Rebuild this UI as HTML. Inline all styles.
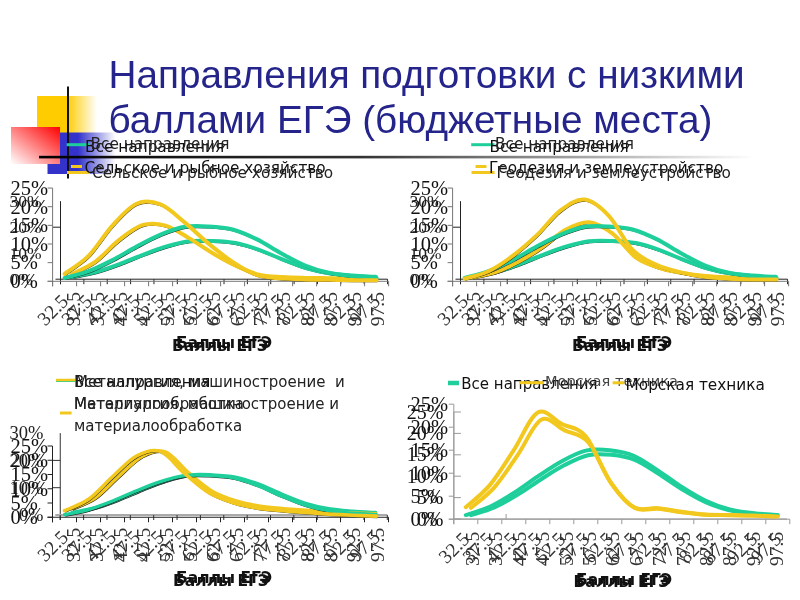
<!DOCTYPE html>
<html><head><meta charset="utf-8"><title>Направления подготовки с низкими баллами ЕГЭ</title>
<style>html,body{margin:0;padding:0;background:#fff;overflow:hidden} svg{display:block}</style>
</head><body>
<svg width="800" height="600" viewBox="0 0 800 600" font-family='"Liberation Sans", Arial, sans-serif'>
<defs>
<linearGradient id="gy" x1="0" y1="0" x2="1" y2="0">
 <stop offset="0" stop-color="#ffcc00"/><stop offset="0.5" stop-color="#ffcc00"/><stop offset="1" stop-color="#ffffff"/>
</linearGradient>
<linearGradient id="gb" x1="0" y1="0" x2="1" y2="0">
 <stop offset="0" stop-color="#3333cc"/><stop offset="0.45" stop-color="#3333cc"/><stop offset="1" stop-color="#ffffff"/>
</linearGradient>
<linearGradient id="gr" x1="1" y1="0" x2="0" y2="1">
 <stop offset="0" stop-color="#ff0000"/><stop offset="1" stop-color="#ffffff"/>
</linearGradient>
<linearGradient id="gl" x1="0" y1="0" x2="1" y2="0">
 <stop offset="0" stop-color="#000000"/><stop offset="0.45" stop-color="#333333"/><stop offset="1" stop-color="#ffffff"/>
</linearGradient>
</defs>
<rect width="800" height="600" fill="#fff"/>
<rect x="37" y="96" width="60" height="50" fill="url(#gy)"/>
<rect x="47.5" y="132.5" width="68" height="41.5" fill="url(#gb)"/>
<rect x="11" y="127" width="49" height="37" fill="url(#gr)"/>
<rect x="67" y="86.5" width="2" height="92" fill="#111"/>
<rect x="39" y="155.8" width="716" height="2.6" fill="url(#gl)"/>
<text x="108.5" y="87.5" font-size="38.7" fill="#24248a">Направления подготовки с низкими</text>
<text x="108.5" y="133" font-size="38.7" fill="#24248a">баллами ЕГЭ (бюджетные места)</text>

<line x1="60.5" y1="201.2" x2="60.5" y2="284.2" stroke="#222" stroke-width="1"/>
<line x1="55.5" y1="279.2" x2="387.53999999999996" y2="279.2" stroke="#222" stroke-width="1"/>
<text x="9.5" y="285.0" text-anchor="start" font-family='"Liberation Serif", "Times New Roman", serif' font-size="17.5" fill="#222">0%</text>
<text x="9.5" y="259.0" text-anchor="start" font-family='"Liberation Serif", "Times New Roman", serif' font-size="17.5" fill="#222">10%</text>
<line x1="53.0" y1="227.2" x2="60.5" y2="227.2" stroke="#222" stroke-width="1"/>
<text x="9.5" y="233.0" text-anchor="start" font-family='"Liberation Serif", "Times New Roman", serif' font-size="17.5" fill="#222">20%</text>
<text x="9.5" y="207.0" text-anchor="start" font-family='"Liberation Serif", "Times New Roman", serif' font-size="17.5" fill="#222">30%</text>
<line x1="60.5" y1="279.2" x2="60.5" y2="284.2" stroke="#222" stroke-width="1"/>
<line x1="83.86" y1="279.2" x2="83.86" y2="284.2" stroke="#222" stroke-width="1"/>
<line x1="107.22" y1="279.2" x2="107.22" y2="284.2" stroke="#222" stroke-width="1"/>
<line x1="130.57999999999998" y1="279.2" x2="130.57999999999998" y2="284.2" stroke="#222" stroke-width="1"/>
<line x1="153.94" y1="279.2" x2="153.94" y2="284.2" stroke="#222" stroke-width="1"/>
<line x1="177.3" y1="279.2" x2="177.3" y2="284.2" stroke="#222" stroke-width="1"/>
<line x1="200.66" y1="279.2" x2="200.66" y2="284.2" stroke="#222" stroke-width="1"/>
<line x1="224.01999999999998" y1="279.2" x2="224.01999999999998" y2="284.2" stroke="#222" stroke-width="1"/>
<line x1="247.38" y1="279.2" x2="247.38" y2="284.2" stroke="#222" stroke-width="1"/>
<line x1="270.74" y1="279.2" x2="270.74" y2="284.2" stroke="#222" stroke-width="1"/>
<line x1="294.1" y1="279.2" x2="294.1" y2="284.2" stroke="#222" stroke-width="1"/>
<line x1="317.46" y1="279.2" x2="317.46" y2="284.2" stroke="#222" stroke-width="1"/>
<line x1="340.82" y1="279.2" x2="340.82" y2="284.2" stroke="#222" stroke-width="1"/>
<line x1="364.18" y1="279.2" x2="364.18" y2="284.2" stroke="#222" stroke-width="1"/>
<line x1="387.53999999999996" y1="279.2" x2="387.53999999999996" y2="284.2" stroke="#222" stroke-width="1"/>
<text transform="translate(80.2,292.0) rotate(-90)" text-anchor="end" font-family='"Liberation Serif", "Times New Roman", serif' font-size="19.5" fill="#333">32.5</text>
<text transform="translate(103.5,292.0) rotate(-90)" text-anchor="end" font-family='"Liberation Serif", "Times New Roman", serif' font-size="19.5" fill="#333">37.5</text>
<text transform="translate(126.9,292.0) rotate(-90)" text-anchor="end" font-family='"Liberation Serif", "Times New Roman", serif' font-size="19.5" fill="#333">42.5</text>
<text transform="translate(150.3,292.0) rotate(-90)" text-anchor="end" font-family='"Liberation Serif", "Times New Roman", serif' font-size="19.5" fill="#333">47.5</text>
<text transform="translate(173.6,292.0) rotate(-90)" text-anchor="end" font-family='"Liberation Serif", "Times New Roman", serif' font-size="19.5" fill="#333">52.5</text>
<text transform="translate(197.0,292.0) rotate(-90)" text-anchor="end" font-family='"Liberation Serif", "Times New Roman", serif' font-size="19.5" fill="#333">57.5</text>
<text transform="translate(220.3,292.0) rotate(-90)" text-anchor="end" font-family='"Liberation Serif", "Times New Roman", serif' font-size="19.5" fill="#333">62.5</text>
<text transform="translate(243.7,292.0) rotate(-90)" text-anchor="end" font-family='"Liberation Serif", "Times New Roman", serif' font-size="19.5" fill="#333">67.5</text>
<text transform="translate(267.1,292.0) rotate(-90)" text-anchor="end" font-family='"Liberation Serif", "Times New Roman", serif' font-size="19.5" fill="#333">72.5</text>
<text transform="translate(290.4,292.0) rotate(-90)" text-anchor="end" font-family='"Liberation Serif", "Times New Roman", serif' font-size="19.5" fill="#333">77.5</text>
<text transform="translate(313.8,292.0) rotate(-90)" text-anchor="end" font-family='"Liberation Serif", "Times New Roman", serif' font-size="19.5" fill="#333">82.5</text>
<text transform="translate(337.1,292.0) rotate(-90)" text-anchor="end" font-family='"Liberation Serif", "Times New Roman", serif' font-size="19.5" fill="#333">87.5</text>
<text transform="translate(360.5,292.0) rotate(-90)" text-anchor="end" font-family='"Liberation Serif", "Times New Roman", serif' font-size="19.5" fill="#333">92.5</text>
<text transform="translate(383.9,292.0) rotate(-90)" text-anchor="end" font-family='"Liberation Serif", "Times New Roman", serif' font-size="19.5" fill="#333">97.5</text>
<path d="M72.18,276.86 C76.07,276.08 87.75,274.26 95.54,272.18 C103.33,270.10 111.11,267.24 118.90,264.38 C126.69,261.52 134.47,257.97 142.26,255.02 C150.05,252.07 157.83,249.00 165.62,246.70 C173.41,244.40 181.19,242.19 188.98,241.24 C196.77,240.29 204.55,240.68 212.34,240.98 C220.13,241.28 227.91,241.59 235.70,243.06 C243.49,244.53 251.27,247.09 259.06,249.82 C266.85,252.55 274.63,256.41 282.42,259.44 C290.21,262.47 297.99,265.72 305.78,268.02 C313.57,270.32 321.35,271.96 329.14,273.22 C336.93,274.48 344.71,274.95 352.50,275.56 C360.29,276.17 371.97,276.64 375.86,276.86" transform="translate(0.9,1.5)" fill="none" stroke="#222" stroke-width="1.2"/>
<path d="M72.18,276.86 C76.07,276.08 87.75,274.26 95.54,272.18 C103.33,270.10 111.11,267.24 118.90,264.38 C126.69,261.52 134.47,257.97 142.26,255.02 C150.05,252.07 157.83,249.00 165.62,246.70 C173.41,244.40 181.19,242.19 188.98,241.24 C196.77,240.29 204.55,240.68 212.34,240.98 C220.13,241.28 227.91,241.59 235.70,243.06 C243.49,244.53 251.27,247.09 259.06,249.82 C266.85,252.55 274.63,256.41 282.42,259.44 C290.21,262.47 297.99,265.72 305.78,268.02 C313.57,270.32 321.35,271.96 329.14,273.22 C336.93,274.48 344.71,274.95 352.50,275.56 C360.29,276.17 371.97,276.64 375.86,276.86" fill="none" stroke="#1fcf9b" stroke-width="4" stroke-linejoin="round" stroke-linecap="round"/>
<path d="M72.18,274.00 C76.07,271.92 87.75,267.15 95.54,261.52 C103.33,255.89 111.11,246.27 118.90,240.20 C126.69,234.13 134.47,227.55 142.26,225.12 C150.05,222.69 157.83,223.47 165.62,225.64 C173.41,227.81 181.19,233.57 188.98,238.12 C196.77,242.67 204.55,248.35 212.34,252.94 C220.13,257.53 227.91,262.04 235.70,265.68 C243.49,269.32 251.27,272.87 259.06,274.78 C266.85,276.69 274.63,276.60 282.42,277.12 C290.21,277.64 297.99,277.73 305.78,277.90 C313.57,278.07 321.35,278.07 329.14,278.16 C336.93,278.25 344.71,278.38 352.50,278.42 C360.29,278.46 371.97,278.42 375.86,278.42" transform="translate(0.9,1.5)" fill="none" stroke="#222" stroke-width="1.2"/>
<path d="M72.18,274.00 C76.07,271.92 87.75,267.15 95.54,261.52 C103.33,255.89 111.11,246.27 118.90,240.20 C126.69,234.13 134.47,227.55 142.26,225.12 C150.05,222.69 157.83,223.47 165.62,225.64 C173.41,227.81 181.19,233.57 188.98,238.12 C196.77,242.67 204.55,248.35 212.34,252.94 C220.13,257.53 227.91,262.04 235.70,265.68 C243.49,269.32 251.27,272.87 259.06,274.78 C266.85,276.69 274.63,276.60 282.42,277.12 C290.21,277.64 297.99,277.73 305.78,277.90 C313.57,278.07 321.35,278.07 329.14,278.16 C336.93,278.25 344.71,278.38 352.50,278.42 C360.29,278.46 371.97,278.42 375.86,278.42" fill="none" stroke="#f2c81e" stroke-width="4" stroke-linejoin="round" stroke-linecap="round"/>
<line x1="52.6" y1="188.05" x2="52.6" y2="286.3" stroke="#777" stroke-width="1"/>
<line x1="47.6" y1="281.3" x2="388.6" y2="281.3" stroke="#777" stroke-width="1"/>
<line x1="47.6" y1="281.3" x2="52.6" y2="281.3" stroke="#777" stroke-width="1"/>
<text x="10.5" y="288.1" text-anchor="start" font-family='"Liberation Serif", "Times New Roman", serif' font-size="20.5" fill="#111">0%</text>
<line x1="47.6" y1="262.65000000000003" x2="52.6" y2="262.65000000000003" stroke="#777" stroke-width="1"/>
<text x="10.5" y="269.4" text-anchor="start" font-family='"Liberation Serif", "Times New Roman", serif' font-size="20.5" fill="#111">5%</text>
<line x1="47.6" y1="244.0" x2="52.6" y2="244.0" stroke="#777" stroke-width="1"/>
<text x="10.5" y="250.8" text-anchor="start" font-family='"Liberation Serif", "Times New Roman", serif' font-size="20.5" fill="#111">10%</text>
<line x1="47.6" y1="225.35000000000002" x2="52.6" y2="225.35000000000002" stroke="#777" stroke-width="1"/>
<text x="10.5" y="232.1" text-anchor="start" font-family='"Liberation Serif", "Times New Roman", serif' font-size="20.5" fill="#111">15%</text>
<line x1="47.6" y1="206.70000000000002" x2="52.6" y2="206.70000000000002" stroke="#777" stroke-width="1"/>
<text x="10.5" y="213.5" text-anchor="start" font-family='"Liberation Serif", "Times New Roman", serif' font-size="20.5" fill="#111">20%</text>
<line x1="47.6" y1="188.05" x2="52.6" y2="188.05" stroke="#777" stroke-width="1"/>
<text x="10.5" y="194.8" text-anchor="start" font-family='"Liberation Serif", "Times New Roman", serif' font-size="20.5" fill="#111">25%</text>
<line x1="52.6" y1="281.3" x2="52.6" y2="286.3" stroke="#777" stroke-width="1"/>
<line x1="76.6" y1="281.3" x2="76.6" y2="286.3" stroke="#777" stroke-width="1"/>
<line x1="100.6" y1="281.3" x2="100.6" y2="286.3" stroke="#777" stroke-width="1"/>
<line x1="124.6" y1="281.3" x2="124.6" y2="286.3" stroke="#777" stroke-width="1"/>
<line x1="148.6" y1="281.3" x2="148.6" y2="286.3" stroke="#777" stroke-width="1"/>
<line x1="172.6" y1="281.3" x2="172.6" y2="286.3" stroke="#777" stroke-width="1"/>
<line x1="196.6" y1="281.3" x2="196.6" y2="286.3" stroke="#777" stroke-width="1"/>
<line x1="220.6" y1="281.3" x2="220.6" y2="286.3" stroke="#777" stroke-width="1"/>
<line x1="244.6" y1="281.3" x2="244.6" y2="286.3" stroke="#777" stroke-width="1"/>
<line x1="268.6" y1="281.3" x2="268.6" y2="286.3" stroke="#777" stroke-width="1"/>
<line x1="292.6" y1="281.3" x2="292.6" y2="286.3" stroke="#777" stroke-width="1"/>
<line x1="316.6" y1="281.3" x2="316.6" y2="286.3" stroke="#777" stroke-width="1"/>
<line x1="340.6" y1="281.3" x2="340.6" y2="286.3" stroke="#777" stroke-width="1"/>
<line x1="364.6" y1="281.3" x2="364.6" y2="286.3" stroke="#777" stroke-width="1"/>
<line x1="388.6" y1="281.3" x2="388.6" y2="286.3" stroke="#777" stroke-width="1"/>
<text transform="translate(69.5,302.5) rotate(-45)" text-anchor="end" font-family='"Liberation Serif", "Times New Roman", serif' font-size="19.5" fill="#333">32.5</text>
<text transform="translate(93.5,302.5) rotate(-45)" text-anchor="end" font-family='"Liberation Serif", "Times New Roman", serif' font-size="19.5" fill="#333">37.5</text>
<text transform="translate(117.5,302.5) rotate(-45)" text-anchor="end" font-family='"Liberation Serif", "Times New Roman", serif' font-size="19.5" fill="#333">42.5</text>
<text transform="translate(141.5,302.5) rotate(-45)" text-anchor="end" font-family='"Liberation Serif", "Times New Roman", serif' font-size="19.5" fill="#333">47.5</text>
<text transform="translate(165.5,302.5) rotate(-45)" text-anchor="end" font-family='"Liberation Serif", "Times New Roman", serif' font-size="19.5" fill="#333">52.5</text>
<text transform="translate(189.5,302.5) rotate(-45)" text-anchor="end" font-family='"Liberation Serif", "Times New Roman", serif' font-size="19.5" fill="#333">57.5</text>
<text transform="translate(213.5,302.5) rotate(-45)" text-anchor="end" font-family='"Liberation Serif", "Times New Roman", serif' font-size="19.5" fill="#333">62.5</text>
<text transform="translate(237.5,302.5) rotate(-45)" text-anchor="end" font-family='"Liberation Serif", "Times New Roman", serif' font-size="19.5" fill="#333">67.5</text>
<text transform="translate(261.5,302.5) rotate(-45)" text-anchor="end" font-family='"Liberation Serif", "Times New Roman", serif' font-size="19.5" fill="#333">72.5</text>
<text transform="translate(285.5,302.5) rotate(-45)" text-anchor="end" font-family='"Liberation Serif", "Times New Roman", serif' font-size="19.5" fill="#333">77.5</text>
<text transform="translate(309.5,302.5) rotate(-45)" text-anchor="end" font-family='"Liberation Serif", "Times New Roman", serif' font-size="19.5" fill="#333">82.5</text>
<text transform="translate(333.5,302.5) rotate(-45)" text-anchor="end" font-family='"Liberation Serif", "Times New Roman", serif' font-size="19.5" fill="#333">87.5</text>
<text transform="translate(357.5,302.5) rotate(-45)" text-anchor="end" font-family='"Liberation Serif", "Times New Roman", serif' font-size="19.5" fill="#333">92.5</text>
<text transform="translate(381.5,302.5) rotate(-45)" text-anchor="end" font-family='"Liberation Serif", "Times New Roman", serif' font-size="19.5" fill="#333">97.5</text>
<path d="M64.60,277.94 C68.60,276.82 80.60,274.21 88.60,271.23 C96.60,268.25 104.60,264.14 112.60,260.04 C120.60,255.94 128.60,250.84 136.60,246.61 C144.60,242.38 152.60,237.97 160.60,234.68 C168.60,231.38 176.60,228.21 184.60,226.84 C192.60,225.47 200.60,226.03 208.60,226.47 C216.60,226.90 224.60,227.34 232.60,229.45 C240.60,231.57 248.60,235.23 256.60,239.15 C264.60,243.07 272.60,248.60 280.60,252.95 C288.60,257.30 296.60,261.97 304.60,265.26 C312.60,268.56 320.60,270.92 328.60,272.72 C336.60,274.52 344.60,275.21 352.60,276.08 C360.60,276.95 372.60,277.63 376.60,277.94" transform="translate(0.9,1.5)" fill="none" stroke="#222" stroke-width="1.2"/>
<path d="M64.60,277.94 C68.60,276.82 80.60,274.21 88.60,271.23 C96.60,268.25 104.60,264.14 112.60,260.04 C120.60,255.94 128.60,250.84 136.60,246.61 C144.60,242.38 152.60,237.97 160.60,234.68 C168.60,231.38 176.60,228.21 184.60,226.84 C192.60,225.47 200.60,226.03 208.60,226.47 C216.60,226.90 224.60,227.34 232.60,229.45 C240.60,231.57 248.60,235.23 256.60,239.15 C264.60,243.07 272.60,248.60 280.60,252.95 C288.60,257.30 296.60,261.97 304.60,265.26 C312.60,268.56 320.60,270.92 328.60,272.72 C336.60,274.52 344.60,275.21 352.60,276.08 C360.60,276.95 372.60,277.63 376.60,277.94" fill="none" stroke="#1fcf9b" stroke-width="4" stroke-linejoin="round" stroke-linecap="round"/>
<path d="M64.60,273.84 C68.60,270.86 80.60,264.02 88.60,255.94 C96.60,247.85 104.60,234.05 112.60,225.35 C120.60,216.65 128.60,207.20 136.60,203.72 C144.60,200.23 152.60,201.35 160.60,204.46 C168.60,207.57 176.60,215.84 184.60,222.37 C192.60,228.89 200.60,237.04 208.60,243.63 C216.60,250.22 224.60,256.68 232.60,261.90 C240.60,267.13 248.60,272.22 256.60,274.96 C264.60,277.69 272.60,277.57 280.60,278.32 C288.60,279.06 296.60,279.19 304.60,279.44 C312.60,279.68 320.60,279.68 328.60,279.81 C336.60,279.93 344.60,280.12 352.60,280.18 C360.60,280.24 372.60,280.18 376.60,280.18" transform="translate(0.9,1.5)" fill="none" stroke="#222" stroke-width="1.2"/>
<path d="M64.60,273.84 C68.60,270.86 80.60,264.02 88.60,255.94 C96.60,247.85 104.60,234.05 112.60,225.35 C120.60,216.65 128.60,207.20 136.60,203.72 C144.60,200.23 152.60,201.35 160.60,204.46 C168.60,207.57 176.60,215.84 184.60,222.37 C192.60,228.89 200.60,237.04 208.60,243.63 C216.60,250.22 224.60,256.68 232.60,261.90 C240.60,267.13 248.60,272.22 256.60,274.96 C264.60,277.69 272.60,277.57 280.60,278.32 C288.60,279.06 296.60,279.19 304.60,279.44 C312.60,279.68 320.60,279.68 328.60,279.81 C336.60,279.93 344.60,280.12 352.60,280.18 C360.60,280.24 372.60,280.18 376.60,280.18" fill="none" stroke="#f2c81e" stroke-width="4" stroke-linejoin="round" stroke-linecap="round"/>
<line x1="460.5" y1="201.2" x2="460.5" y2="284.2" stroke="#222" stroke-width="1"/>
<line x1="455.5" y1="279.2" x2="787.54" y2="279.2" stroke="#222" stroke-width="1"/>
<text x="409.5" y="285.0" text-anchor="start" font-family='"Liberation Serif", "Times New Roman", serif' font-size="17.5" fill="#222">0%</text>
<text x="409.5" y="259.0" text-anchor="start" font-family='"Liberation Serif", "Times New Roman", serif' font-size="17.5" fill="#222">10%</text>
<line x1="453.0" y1="227.2" x2="460.5" y2="227.2" stroke="#222" stroke-width="1"/>
<text x="409.5" y="233.0" text-anchor="start" font-family='"Liberation Serif", "Times New Roman", serif' font-size="17.5" fill="#222">20%</text>
<text x="409.5" y="207.0" text-anchor="start" font-family='"Liberation Serif", "Times New Roman", serif' font-size="17.5" fill="#222">30%</text>
<line x1="460.5" y1="279.2" x2="460.5" y2="284.2" stroke="#222" stroke-width="1"/>
<line x1="483.86" y1="279.2" x2="483.86" y2="284.2" stroke="#222" stroke-width="1"/>
<line x1="507.22" y1="279.2" x2="507.22" y2="284.2" stroke="#222" stroke-width="1"/>
<line x1="530.58" y1="279.2" x2="530.58" y2="284.2" stroke="#222" stroke-width="1"/>
<line x1="553.94" y1="279.2" x2="553.94" y2="284.2" stroke="#222" stroke-width="1"/>
<line x1="577.3" y1="279.2" x2="577.3" y2="284.2" stroke="#222" stroke-width="1"/>
<line x1="600.66" y1="279.2" x2="600.66" y2="284.2" stroke="#222" stroke-width="1"/>
<line x1="624.02" y1="279.2" x2="624.02" y2="284.2" stroke="#222" stroke-width="1"/>
<line x1="647.38" y1="279.2" x2="647.38" y2="284.2" stroke="#222" stroke-width="1"/>
<line x1="670.74" y1="279.2" x2="670.74" y2="284.2" stroke="#222" stroke-width="1"/>
<line x1="694.1" y1="279.2" x2="694.1" y2="284.2" stroke="#222" stroke-width="1"/>
<line x1="717.46" y1="279.2" x2="717.46" y2="284.2" stroke="#222" stroke-width="1"/>
<line x1="740.8199999999999" y1="279.2" x2="740.8199999999999" y2="284.2" stroke="#222" stroke-width="1"/>
<line x1="764.1800000000001" y1="279.2" x2="764.1800000000001" y2="284.2" stroke="#222" stroke-width="1"/>
<line x1="787.54" y1="279.2" x2="787.54" y2="284.2" stroke="#222" stroke-width="1"/>
<text transform="translate(480.2,292.0) rotate(-90)" text-anchor="end" font-family='"Liberation Serif", "Times New Roman", serif' font-size="19.5" fill="#333">32.5</text>
<text transform="translate(503.5,292.0) rotate(-90)" text-anchor="end" font-family='"Liberation Serif", "Times New Roman", serif' font-size="19.5" fill="#333">37.5</text>
<text transform="translate(526.9,292.0) rotate(-90)" text-anchor="end" font-family='"Liberation Serif", "Times New Roman", serif' font-size="19.5" fill="#333">42.5</text>
<text transform="translate(550.3,292.0) rotate(-90)" text-anchor="end" font-family='"Liberation Serif", "Times New Roman", serif' font-size="19.5" fill="#333">47.5</text>
<text transform="translate(573.6,292.0) rotate(-90)" text-anchor="end" font-family='"Liberation Serif", "Times New Roman", serif' font-size="19.5" fill="#333">52.5</text>
<text transform="translate(597.0,292.0) rotate(-90)" text-anchor="end" font-family='"Liberation Serif", "Times New Roman", serif' font-size="19.5" fill="#333">57.5</text>
<text transform="translate(620.3,292.0) rotate(-90)" text-anchor="end" font-family='"Liberation Serif", "Times New Roman", serif' font-size="19.5" fill="#333">62.5</text>
<text transform="translate(643.7,292.0) rotate(-90)" text-anchor="end" font-family='"Liberation Serif", "Times New Roman", serif' font-size="19.5" fill="#333">67.5</text>
<text transform="translate(667.1,292.0) rotate(-90)" text-anchor="end" font-family='"Liberation Serif", "Times New Roman", serif' font-size="19.5" fill="#333">72.5</text>
<text transform="translate(690.4,292.0) rotate(-90)" text-anchor="end" font-family='"Liberation Serif", "Times New Roman", serif' font-size="19.5" fill="#333">77.5</text>
<text transform="translate(713.8,292.0) rotate(-90)" text-anchor="end" font-family='"Liberation Serif", "Times New Roman", serif' font-size="19.5" fill="#333">82.5</text>
<text transform="translate(737.1,292.0) rotate(-90)" text-anchor="end" font-family='"Liberation Serif", "Times New Roman", serif' font-size="19.5" fill="#333">87.5</text>
<text transform="translate(760.5,292.0) rotate(-90)" text-anchor="end" font-family='"Liberation Serif", "Times New Roman", serif' font-size="19.5" fill="#333">92.5</text>
<text transform="translate(783.9,292.0) rotate(-90)" text-anchor="end" font-family='"Liberation Serif", "Times New Roman", serif' font-size="19.5" fill="#333">97.5</text>
<path d="M472.18,276.86 C476.07,276.08 487.75,274.26 495.54,272.18 C503.33,270.10 511.11,267.24 518.90,264.38 C526.69,261.52 534.47,257.97 542.26,255.02 C550.05,252.07 557.83,249.00 565.62,246.70 C573.41,244.40 581.19,242.19 588.98,241.24 C596.77,240.29 604.55,240.68 612.34,240.98 C620.13,241.28 627.91,241.59 635.70,243.06 C643.49,244.53 651.27,247.09 659.06,249.82 C666.85,252.55 674.63,256.41 682.42,259.44 C690.21,262.47 697.99,265.72 705.78,268.02 C713.57,270.32 721.35,271.96 729.14,273.22 C736.93,274.48 744.71,274.95 752.50,275.56 C760.29,276.17 771.97,276.64 775.86,276.86" transform="translate(0.9,1.5)" fill="none" stroke="#222" stroke-width="1.2"/>
<path d="M472.18,276.86 C476.07,276.08 487.75,274.26 495.54,272.18 C503.33,270.10 511.11,267.24 518.90,264.38 C526.69,261.52 534.47,257.97 542.26,255.02 C550.05,252.07 557.83,249.00 565.62,246.70 C573.41,244.40 581.19,242.19 588.98,241.24 C596.77,240.29 604.55,240.68 612.34,240.98 C620.13,241.28 627.91,241.59 635.70,243.06 C643.49,244.53 651.27,247.09 659.06,249.82 C666.85,252.55 674.63,256.41 682.42,259.44 C690.21,262.47 697.99,265.72 705.78,268.02 C713.57,270.32 721.35,271.96 729.14,273.22 C736.93,274.48 744.71,274.95 752.50,275.56 C760.29,276.17 771.97,276.64 775.86,276.86" fill="none" stroke="#1fcf9b" stroke-width="4" stroke-linejoin="round" stroke-linecap="round"/>
<path d="M472.18,277.38 C476.07,276.51 487.75,274.82 495.54,272.18 C503.33,269.54 511.11,265.68 518.90,261.52 C526.69,257.36 534.47,252.51 542.26,247.22 C550.05,241.93 557.83,233.96 565.62,229.80 C573.41,225.64 581.19,221.65 588.98,222.26 C596.77,222.87 604.55,227.59 612.34,233.44 C620.13,239.29 627.91,251.64 635.70,257.36 C643.49,263.08 651.27,265.16 659.06,267.76 C666.85,270.36 674.63,271.57 682.42,272.96 C690.21,274.35 697.99,275.34 705.78,276.08 C713.57,276.82 721.35,277.08 729.14,277.38 C736.93,277.68 744.71,277.81 752.50,277.90 C760.29,277.99 771.97,277.90 775.86,277.90" transform="translate(0.9,1.5)" fill="none" stroke="#222" stroke-width="1.2"/>
<path d="M472.18,277.38 C476.07,276.51 487.75,274.82 495.54,272.18 C503.33,269.54 511.11,265.68 518.90,261.52 C526.69,257.36 534.47,252.51 542.26,247.22 C550.05,241.93 557.83,233.96 565.62,229.80 C573.41,225.64 581.19,221.65 588.98,222.26 C596.77,222.87 604.55,227.59 612.34,233.44 C620.13,239.29 627.91,251.64 635.70,257.36 C643.49,263.08 651.27,265.16 659.06,267.76 C666.85,270.36 674.63,271.57 682.42,272.96 C690.21,274.35 697.99,275.34 705.78,276.08 C713.57,276.82 721.35,277.08 729.14,277.38 C736.93,277.68 744.71,277.81 752.50,277.90 C760.29,277.99 771.97,277.90 775.86,277.90" fill="none" stroke="#f2c81e" stroke-width="4" stroke-linejoin="round" stroke-linecap="round"/>
<line x1="452.6" y1="188.05" x2="452.6" y2="286.3" stroke="#777" stroke-width="1"/>
<line x1="447.6" y1="281.3" x2="788.6" y2="281.3" stroke="#777" stroke-width="1"/>
<line x1="447.6" y1="281.3" x2="452.6" y2="281.3" stroke="#777" stroke-width="1"/>
<text x="410.5" y="288.1" text-anchor="start" font-family='"Liberation Serif", "Times New Roman", serif' font-size="20.5" fill="#111">0%</text>
<line x1="447.6" y1="262.65000000000003" x2="452.6" y2="262.65000000000003" stroke="#777" stroke-width="1"/>
<text x="410.5" y="269.4" text-anchor="start" font-family='"Liberation Serif", "Times New Roman", serif' font-size="20.5" fill="#111">5%</text>
<line x1="447.6" y1="244.0" x2="452.6" y2="244.0" stroke="#777" stroke-width="1"/>
<text x="410.5" y="250.8" text-anchor="start" font-family='"Liberation Serif", "Times New Roman", serif' font-size="20.5" fill="#111">10%</text>
<line x1="447.6" y1="225.35000000000002" x2="452.6" y2="225.35000000000002" stroke="#777" stroke-width="1"/>
<text x="410.5" y="232.1" text-anchor="start" font-family='"Liberation Serif", "Times New Roman", serif' font-size="20.5" fill="#111">15%</text>
<line x1="447.6" y1="206.70000000000002" x2="452.6" y2="206.70000000000002" stroke="#777" stroke-width="1"/>
<text x="410.5" y="213.5" text-anchor="start" font-family='"Liberation Serif", "Times New Roman", serif' font-size="20.5" fill="#111">20%</text>
<line x1="447.6" y1="188.05" x2="452.6" y2="188.05" stroke="#777" stroke-width="1"/>
<text x="410.5" y="194.8" text-anchor="start" font-family='"Liberation Serif", "Times New Roman", serif' font-size="20.5" fill="#111">25%</text>
<line x1="452.6" y1="281.3" x2="452.6" y2="286.3" stroke="#777" stroke-width="1"/>
<line x1="476.6" y1="281.3" x2="476.6" y2="286.3" stroke="#777" stroke-width="1"/>
<line x1="500.6" y1="281.3" x2="500.6" y2="286.3" stroke="#777" stroke-width="1"/>
<line x1="524.6" y1="281.3" x2="524.6" y2="286.3" stroke="#777" stroke-width="1"/>
<line x1="548.6" y1="281.3" x2="548.6" y2="286.3" stroke="#777" stroke-width="1"/>
<line x1="572.6" y1="281.3" x2="572.6" y2="286.3" stroke="#777" stroke-width="1"/>
<line x1="596.6" y1="281.3" x2="596.6" y2="286.3" stroke="#777" stroke-width="1"/>
<line x1="620.6" y1="281.3" x2="620.6" y2="286.3" stroke="#777" stroke-width="1"/>
<line x1="644.6" y1="281.3" x2="644.6" y2="286.3" stroke="#777" stroke-width="1"/>
<line x1="668.6" y1="281.3" x2="668.6" y2="286.3" stroke="#777" stroke-width="1"/>
<line x1="692.6" y1="281.3" x2="692.6" y2="286.3" stroke="#777" stroke-width="1"/>
<line x1="716.6" y1="281.3" x2="716.6" y2="286.3" stroke="#777" stroke-width="1"/>
<line x1="740.6" y1="281.3" x2="740.6" y2="286.3" stroke="#777" stroke-width="1"/>
<line x1="764.6" y1="281.3" x2="764.6" y2="286.3" stroke="#777" stroke-width="1"/>
<line x1="788.6" y1="281.3" x2="788.6" y2="286.3" stroke="#777" stroke-width="1"/>
<text transform="translate(469.5,302.5) rotate(-45)" text-anchor="end" font-family='"Liberation Serif", "Times New Roman", serif' font-size="19.5" fill="#333">32.5</text>
<text transform="translate(493.5,302.5) rotate(-45)" text-anchor="end" font-family='"Liberation Serif", "Times New Roman", serif' font-size="19.5" fill="#333">37.5</text>
<text transform="translate(517.5,302.5) rotate(-45)" text-anchor="end" font-family='"Liberation Serif", "Times New Roman", serif' font-size="19.5" fill="#333">42.5</text>
<text transform="translate(541.5,302.5) rotate(-45)" text-anchor="end" font-family='"Liberation Serif", "Times New Roman", serif' font-size="19.5" fill="#333">47.5</text>
<text transform="translate(565.5,302.5) rotate(-45)" text-anchor="end" font-family='"Liberation Serif", "Times New Roman", serif' font-size="19.5" fill="#333">52.5</text>
<text transform="translate(589.5,302.5) rotate(-45)" text-anchor="end" font-family='"Liberation Serif", "Times New Roman", serif' font-size="19.5" fill="#333">57.5</text>
<text transform="translate(613.5,302.5) rotate(-45)" text-anchor="end" font-family='"Liberation Serif", "Times New Roman", serif' font-size="19.5" fill="#333">62.5</text>
<text transform="translate(637.5,302.5) rotate(-45)" text-anchor="end" font-family='"Liberation Serif", "Times New Roman", serif' font-size="19.5" fill="#333">67.5</text>
<text transform="translate(661.5,302.5) rotate(-45)" text-anchor="end" font-family='"Liberation Serif", "Times New Roman", serif' font-size="19.5" fill="#333">72.5</text>
<text transform="translate(685.5,302.5) rotate(-45)" text-anchor="end" font-family='"Liberation Serif", "Times New Roman", serif' font-size="19.5" fill="#333">77.5</text>
<text transform="translate(709.5,302.5) rotate(-45)" text-anchor="end" font-family='"Liberation Serif", "Times New Roman", serif' font-size="19.5" fill="#333">82.5</text>
<text transform="translate(733.5,302.5) rotate(-45)" text-anchor="end" font-family='"Liberation Serif", "Times New Roman", serif' font-size="19.5" fill="#333">87.5</text>
<text transform="translate(757.5,302.5) rotate(-45)" text-anchor="end" font-family='"Liberation Serif", "Times New Roman", serif' font-size="19.5" fill="#333">92.5</text>
<text transform="translate(781.5,302.5) rotate(-45)" text-anchor="end" font-family='"Liberation Serif", "Times New Roman", serif' font-size="19.5" fill="#333">97.5</text>
<path d="M464.60,277.94 C468.60,276.82 480.60,274.21 488.60,271.23 C496.60,268.25 504.60,264.14 512.60,260.04 C520.60,255.94 528.60,250.84 536.60,246.61 C544.60,242.38 552.60,237.97 560.60,234.68 C568.60,231.38 576.60,228.21 584.60,226.84 C592.60,225.47 600.60,226.03 608.60,226.47 C616.60,226.90 624.60,227.34 632.60,229.45 C640.60,231.57 648.60,235.23 656.60,239.15 C664.60,243.07 672.60,248.60 680.60,252.95 C688.60,257.30 696.60,261.97 704.60,265.26 C712.60,268.56 720.60,270.92 728.60,272.72 C736.60,274.52 744.60,275.21 752.60,276.08 C760.60,276.95 772.60,277.63 776.60,277.94" transform="translate(0.9,1.5)" fill="none" stroke="#222" stroke-width="1.2"/>
<path d="M464.60,277.94 C468.60,276.82 480.60,274.21 488.60,271.23 C496.60,268.25 504.60,264.14 512.60,260.04 C520.60,255.94 528.60,250.84 536.60,246.61 C544.60,242.38 552.60,237.97 560.60,234.68 C568.60,231.38 576.60,228.21 584.60,226.84 C592.60,225.47 600.60,226.03 608.60,226.47 C616.60,226.90 624.60,227.34 632.60,229.45 C640.60,231.57 648.60,235.23 656.60,239.15 C664.60,243.07 672.60,248.60 680.60,252.95 C688.60,257.30 696.60,261.97 704.60,265.26 C712.60,268.56 720.60,270.92 728.60,272.72 C736.60,274.52 744.60,275.21 752.60,276.08 C760.60,276.95 772.60,277.63 776.60,277.94" fill="none" stroke="#1fcf9b" stroke-width="4" stroke-linejoin="round" stroke-linecap="round"/>
<path d="M464.60,278.69 C468.60,277.45 480.60,275.02 488.60,271.23 C496.60,267.44 504.60,261.90 512.60,255.94 C520.60,249.97 528.60,243.01 536.60,235.42 C544.60,227.84 552.60,216.40 560.60,210.43 C568.60,204.46 576.60,198.74 584.60,199.61 C592.60,200.48 600.60,207.26 608.60,215.65 C616.60,224.04 624.60,241.76 632.60,249.97 C640.60,258.17 648.60,261.16 656.60,264.89 C664.60,268.62 672.60,270.36 680.60,272.35 C688.60,274.34 696.60,275.77 704.60,276.82 C712.60,277.88 720.60,278.25 728.60,278.69 C736.60,279.12 744.60,279.31 752.60,279.44 C760.60,279.56 772.60,279.44 776.60,279.44" transform="translate(0.9,1.5)" fill="none" stroke="#222" stroke-width="1.2"/>
<path d="M464.60,278.69 C468.60,277.45 480.60,275.02 488.60,271.23 C496.60,267.44 504.60,261.90 512.60,255.94 C520.60,249.97 528.60,243.01 536.60,235.42 C544.60,227.84 552.60,216.40 560.60,210.43 C568.60,204.46 576.60,198.74 584.60,199.61 C592.60,200.48 600.60,207.26 608.60,215.65 C616.60,224.04 624.60,241.76 632.60,249.97 C640.60,258.17 648.60,261.16 656.60,264.89 C664.60,268.62 672.60,270.36 680.60,272.35 C688.60,274.34 696.60,275.77 704.60,276.82 C712.60,277.88 720.60,278.25 728.60,278.69 C736.60,279.12 744.60,279.31 752.60,279.44 C760.60,279.56 772.60,279.44 776.60,279.44" fill="none" stroke="#f2c81e" stroke-width="4" stroke-linejoin="round" stroke-linecap="round"/>
<line x1="60.25" y1="433.1" x2="60.25" y2="520" stroke="#333" stroke-width="1"/>
<line x1="55.25" y1="515" x2="387.28999999999996" y2="515" stroke="#aaa" stroke-width="2"/>
<text x="43.5" y="521.1" text-anchor="end" font-family='"Liberation Serif", "Times New Roman", serif' font-size="18.5" fill="#222">0%</text>
<line x1="52.75" y1="487.7" x2="60.25" y2="487.7" stroke="#333" stroke-width="1"/>
<text x="43.5" y="493.8" text-anchor="end" font-family='"Liberation Serif", "Times New Roman", serif' font-size="18.5" fill="#222">10%</text>
<line x1="52.75" y1="460.4" x2="60.25" y2="460.4" stroke="#333" stroke-width="1"/>
<text x="43.5" y="466.5" text-anchor="end" font-family='"Liberation Serif", "Times New Roman", serif' font-size="18.5" fill="#222">20%</text>
<text x="43.5" y="439.2" text-anchor="end" font-family='"Liberation Serif", "Times New Roman", serif' font-size="18.5" fill="#222">30%</text>
<line x1="60.25" y1="515" x2="60.25" y2="520" stroke="#333" stroke-width="1"/>
<line x1="83.61" y1="515" x2="83.61" y2="520" stroke="#333" stroke-width="1"/>
<line x1="106.97" y1="515" x2="106.97" y2="520" stroke="#333" stroke-width="1"/>
<line x1="130.32999999999998" y1="515" x2="130.32999999999998" y2="520" stroke="#333" stroke-width="1"/>
<line x1="153.69" y1="515" x2="153.69" y2="520" stroke="#333" stroke-width="1"/>
<line x1="177.05" y1="515" x2="177.05" y2="520" stroke="#333" stroke-width="1"/>
<line x1="200.41" y1="515" x2="200.41" y2="520" stroke="#333" stroke-width="1"/>
<line x1="223.76999999999998" y1="515" x2="223.76999999999998" y2="520" stroke="#333" stroke-width="1"/>
<line x1="247.13" y1="515" x2="247.13" y2="520" stroke="#333" stroke-width="1"/>
<line x1="270.49" y1="515" x2="270.49" y2="520" stroke="#333" stroke-width="1"/>
<line x1="293.85" y1="515" x2="293.85" y2="520" stroke="#333" stroke-width="1"/>
<line x1="317.21" y1="515" x2="317.21" y2="520" stroke="#333" stroke-width="1"/>
<line x1="340.57" y1="515" x2="340.57" y2="520" stroke="#333" stroke-width="1"/>
<line x1="363.93" y1="515" x2="363.93" y2="520" stroke="#333" stroke-width="1"/>
<line x1="387.28999999999996" y1="515" x2="387.28999999999996" y2="520" stroke="#333" stroke-width="1"/>
<text transform="translate(79.9,527.8) rotate(-90)" text-anchor="end" font-family='"Liberation Serif", "Times New Roman", serif' font-size="19.5" fill="#333">32.5</text>
<text transform="translate(103.3,527.8) rotate(-90)" text-anchor="end" font-family='"Liberation Serif", "Times New Roman", serif' font-size="19.5" fill="#333">37.5</text>
<text transform="translate(126.7,527.8) rotate(-90)" text-anchor="end" font-family='"Liberation Serif", "Times New Roman", serif' font-size="19.5" fill="#333">42.5</text>
<text transform="translate(150.0,527.8) rotate(-90)" text-anchor="end" font-family='"Liberation Serif", "Times New Roman", serif' font-size="19.5" fill="#333">47.5</text>
<text transform="translate(173.4,527.8) rotate(-90)" text-anchor="end" font-family='"Liberation Serif", "Times New Roman", serif' font-size="19.5" fill="#333">52.5</text>
<text transform="translate(196.7,527.8) rotate(-90)" text-anchor="end" font-family='"Liberation Serif", "Times New Roman", serif' font-size="19.5" fill="#333">57.5</text>
<text transform="translate(220.1,527.8) rotate(-90)" text-anchor="end" font-family='"Liberation Serif", "Times New Roman", serif' font-size="19.5" fill="#333">62.5</text>
<text transform="translate(243.4,527.8) rotate(-90)" text-anchor="end" font-family='"Liberation Serif", "Times New Roman", serif' font-size="19.5" fill="#333">67.5</text>
<text transform="translate(266.8,527.8) rotate(-90)" text-anchor="end" font-family='"Liberation Serif", "Times New Roman", serif' font-size="19.5" fill="#333">72.5</text>
<text transform="translate(290.2,527.8) rotate(-90)" text-anchor="end" font-family='"Liberation Serif", "Times New Roman", serif' font-size="19.5" fill="#333">77.5</text>
<text transform="translate(313.5,527.8) rotate(-90)" text-anchor="end" font-family='"Liberation Serif", "Times New Roman", serif' font-size="19.5" fill="#333">82.5</text>
<text transform="translate(336.9,527.8) rotate(-90)" text-anchor="end" font-family='"Liberation Serif", "Times New Roman", serif' font-size="19.5" fill="#333">87.5</text>
<text transform="translate(360.2,527.8) rotate(-90)" text-anchor="end" font-family='"Liberation Serif", "Times New Roman", serif' font-size="19.5" fill="#333">92.5</text>
<text transform="translate(383.6,527.8) rotate(-90)" text-anchor="end" font-family='"Liberation Serif", "Times New Roman", serif' font-size="19.5" fill="#333">97.5</text>
<path d="M71.93,512.54 C75.82,511.72 87.50,509.81 95.29,507.63 C103.08,505.45 110.86,502.44 118.65,499.44 C126.44,496.44 134.22,492.70 142.01,489.61 C149.80,486.52 157.58,483.29 165.37,480.88 C173.16,478.46 180.94,476.14 188.73,475.14 C196.52,474.14 204.30,474.55 212.09,474.87 C219.88,475.19 227.66,475.51 235.45,477.05 C243.24,478.60 251.02,481.28 258.81,484.15 C266.60,487.02 274.38,491.07 282.17,494.25 C289.96,497.44 297.74,500.85 305.53,503.26 C313.32,505.67 321.10,507.40 328.89,508.72 C336.68,510.04 344.46,510.54 352.25,511.18 C360.04,511.81 371.72,512.32 375.61,512.54" transform="translate(0.9,1.5)" fill="none" stroke="#222" stroke-width="1.2"/>
<path d="M71.93,512.54 C75.82,511.72 87.50,509.81 95.29,507.63 C103.08,505.45 110.86,502.44 118.65,499.44 C126.44,496.44 134.22,492.70 142.01,489.61 C149.80,486.52 157.58,483.29 165.37,480.88 C173.16,478.46 180.94,476.14 188.73,475.14 C196.52,474.14 204.30,474.55 212.09,474.87 C219.88,475.19 227.66,475.51 235.45,477.05 C243.24,478.60 251.02,481.28 258.81,484.15 C266.60,487.02 274.38,491.07 282.17,494.25 C289.96,497.44 297.74,500.85 305.53,503.26 C313.32,505.67 321.10,507.40 328.89,508.72 C336.68,510.04 344.46,510.54 352.25,511.18 C360.04,511.81 371.72,512.32 375.61,512.54" fill="none" stroke="#1fcf9b" stroke-width="3.4" stroke-linejoin="round" stroke-linecap="round"/>
<path d="M71.93,508.72 C75.82,506.90 87.50,503.22 95.29,497.80 C103.08,492.39 110.86,483.15 118.65,476.23 C126.44,469.32 134.22,460.35 142.01,456.31 C149.80,452.26 157.58,449.16 165.37,451.94 C173.16,454.71 180.94,466.41 188.73,472.96 C196.52,479.51 204.30,486.61 212.09,491.25 C219.88,495.89 227.66,498.35 235.45,500.80 C243.24,503.26 251.02,504.72 258.81,505.99 C266.60,507.26 274.38,507.72 282.17,508.45 C289.96,509.18 297.74,509.77 305.53,510.36 C313.32,510.95 321.10,511.54 328.89,512.00 C336.68,512.45 344.46,512.77 352.25,513.09 C360.04,513.41 371.72,513.77 375.61,513.91" transform="translate(0.9,1.5)" fill="none" stroke="#222" stroke-width="1.2"/>
<path d="M71.93,508.72 C75.82,506.90 87.50,503.22 95.29,497.80 C103.08,492.39 110.86,483.15 118.65,476.23 C126.44,469.32 134.22,460.35 142.01,456.31 C149.80,452.26 157.58,449.16 165.37,451.94 C173.16,454.71 180.94,466.41 188.73,472.96 C196.52,479.51 204.30,486.61 212.09,491.25 C219.88,495.89 227.66,498.35 235.45,500.80 C243.24,503.26 251.02,504.72 258.81,505.99 C266.60,507.26 274.38,507.72 282.17,508.45 C289.96,509.18 297.74,509.77 305.53,510.36 C313.32,510.95 321.10,511.54 328.89,512.00 C336.68,512.45 344.46,512.77 352.25,513.09 C360.04,513.41 371.72,513.77 375.61,513.91" fill="none" stroke="#f2c81e" stroke-width="3.6" stroke-linejoin="round" stroke-linecap="round"/>
<line x1="52.5" y1="446.0" x2="52.5" y2="522.25" stroke="#222" stroke-width="1"/>
<line x1="47.5" y1="517.25" x2="388.5" y2="517.25" stroke="#222" stroke-width="1"/>
<line x1="47.5" y1="517.25" x2="52.5" y2="517.25" stroke="#222" stroke-width="1"/>
<text x="10.5" y="524.0" text-anchor="start" font-family='"Liberation Serif", "Times New Roman", serif' font-size="20.5" fill="#111">0%</text>
<line x1="47.5" y1="503.0" x2="52.5" y2="503.0" stroke="#222" stroke-width="1"/>
<text x="10.5" y="509.8" text-anchor="start" font-family='"Liberation Serif", "Times New Roman", serif' font-size="20.5" fill="#111">5%</text>
<line x1="47.5" y1="488.75" x2="52.5" y2="488.75" stroke="#222" stroke-width="1"/>
<text x="10.5" y="495.5" text-anchor="start" font-family='"Liberation Serif", "Times New Roman", serif' font-size="20.5" fill="#111">10%</text>
<line x1="47.5" y1="474.5" x2="52.5" y2="474.5" stroke="#222" stroke-width="1"/>
<text x="10.5" y="481.3" text-anchor="start" font-family='"Liberation Serif", "Times New Roman", serif' font-size="20.5" fill="#111">15%</text>
<line x1="47.5" y1="460.25" x2="52.5" y2="460.25" stroke="#222" stroke-width="1"/>
<text x="10.5" y="467.0" text-anchor="start" font-family='"Liberation Serif", "Times New Roman", serif' font-size="20.5" fill="#111">20%</text>
<line x1="47.5" y1="446.0" x2="52.5" y2="446.0" stroke="#222" stroke-width="1"/>
<text x="10.5" y="452.8" text-anchor="start" font-family='"Liberation Serif", "Times New Roman", serif' font-size="20.5" fill="#111">25%</text>
<line x1="52.5" y1="517.25" x2="52.5" y2="522.25" stroke="#222" stroke-width="1"/>
<line x1="76.5" y1="517.25" x2="76.5" y2="522.25" stroke="#222" stroke-width="1"/>
<line x1="100.5" y1="517.25" x2="100.5" y2="522.25" stroke="#222" stroke-width="1"/>
<line x1="124.5" y1="517.25" x2="124.5" y2="522.25" stroke="#222" stroke-width="1"/>
<line x1="148.5" y1="517.25" x2="148.5" y2="522.25" stroke="#222" stroke-width="1"/>
<line x1="172.5" y1="517.25" x2="172.5" y2="522.25" stroke="#222" stroke-width="1"/>
<line x1="196.5" y1="517.25" x2="196.5" y2="522.25" stroke="#222" stroke-width="1"/>
<line x1="220.5" y1="517.25" x2="220.5" y2="522.25" stroke="#222" stroke-width="1"/>
<line x1="244.5" y1="517.25" x2="244.5" y2="522.25" stroke="#222" stroke-width="1"/>
<line x1="268.5" y1="517.25" x2="268.5" y2="522.25" stroke="#222" stroke-width="1"/>
<line x1="292.5" y1="517.25" x2="292.5" y2="522.25" stroke="#222" stroke-width="1"/>
<line x1="316.5" y1="517.25" x2="316.5" y2="522.25" stroke="#222" stroke-width="1"/>
<line x1="340.5" y1="517.25" x2="340.5" y2="522.25" stroke="#222" stroke-width="1"/>
<line x1="364.5" y1="517.25" x2="364.5" y2="522.25" stroke="#222" stroke-width="1"/>
<line x1="388.5" y1="517.25" x2="388.5" y2="522.25" stroke="#222" stroke-width="1"/>
<text transform="translate(69.4,538.5) rotate(-45)" text-anchor="end" font-family='"Liberation Serif", "Times New Roman", serif' font-size="19.5" fill="#333">32.5</text>
<text transform="translate(93.4,538.5) rotate(-45)" text-anchor="end" font-family='"Liberation Serif", "Times New Roman", serif' font-size="19.5" fill="#333">37.5</text>
<text transform="translate(117.4,538.5) rotate(-45)" text-anchor="end" font-family='"Liberation Serif", "Times New Roman", serif' font-size="19.5" fill="#333">42.5</text>
<text transform="translate(141.4,538.5) rotate(-45)" text-anchor="end" font-family='"Liberation Serif", "Times New Roman", serif' font-size="19.5" fill="#333">47.5</text>
<text transform="translate(165.4,538.5) rotate(-45)" text-anchor="end" font-family='"Liberation Serif", "Times New Roman", serif' font-size="19.5" fill="#333">52.5</text>
<text transform="translate(189.4,538.5) rotate(-45)" text-anchor="end" font-family='"Liberation Serif", "Times New Roman", serif' font-size="19.5" fill="#333">57.5</text>
<text transform="translate(213.4,538.5) rotate(-45)" text-anchor="end" font-family='"Liberation Serif", "Times New Roman", serif' font-size="19.5" fill="#333">62.5</text>
<text transform="translate(237.4,538.5) rotate(-45)" text-anchor="end" font-family='"Liberation Serif", "Times New Roman", serif' font-size="19.5" fill="#333">67.5</text>
<text transform="translate(261.4,538.5) rotate(-45)" text-anchor="end" font-family='"Liberation Serif", "Times New Roman", serif' font-size="19.5" fill="#333">72.5</text>
<text transform="translate(285.4,538.5) rotate(-45)" text-anchor="end" font-family='"Liberation Serif", "Times New Roman", serif' font-size="19.5" fill="#333">77.5</text>
<text transform="translate(309.4,538.5) rotate(-45)" text-anchor="end" font-family='"Liberation Serif", "Times New Roman", serif' font-size="19.5" fill="#333">82.5</text>
<text transform="translate(333.4,538.5) rotate(-45)" text-anchor="end" font-family='"Liberation Serif", "Times New Roman", serif' font-size="19.5" fill="#333">87.5</text>
<text transform="translate(357.4,538.5) rotate(-45)" text-anchor="end" font-family='"Liberation Serif", "Times New Roman", serif' font-size="19.5" fill="#333">92.5</text>
<text transform="translate(381.4,538.5) rotate(-45)" text-anchor="end" font-family='"Liberation Serif", "Times New Roman", serif' font-size="19.5" fill="#333">97.5</text>
<path d="M64.50,514.68 C68.50,513.83 80.50,511.83 88.50,509.56 C96.50,507.28 104.50,504.14 112.50,501.00 C120.50,497.87 128.50,493.98 136.50,490.75 C144.50,487.51 152.50,484.14 160.50,481.62 C168.50,479.11 176.50,476.69 184.50,475.64 C192.50,474.59 200.50,475.02 208.50,475.36 C216.50,475.69 224.50,476.02 232.50,477.63 C240.50,479.25 248.50,482.05 256.50,485.05 C264.50,488.04 272.50,492.26 280.50,495.59 C288.50,498.91 296.50,502.48 304.50,505.00 C312.50,507.51 320.50,509.32 328.50,510.69 C336.50,512.07 344.50,512.60 352.50,513.26 C360.50,513.92 372.50,514.45 376.50,514.68" transform="translate(0.9,1.5)" fill="none" stroke="#222" stroke-width="1.2"/>
<path d="M64.50,514.68 C68.50,513.83 80.50,511.83 88.50,509.56 C96.50,507.28 104.50,504.14 112.50,501.00 C120.50,497.87 128.50,493.98 136.50,490.75 C144.50,487.51 152.50,484.14 160.50,481.62 C168.50,479.11 176.50,476.69 184.50,475.64 C192.50,474.59 200.50,475.02 208.50,475.36 C216.50,475.69 224.50,476.02 232.50,477.63 C240.50,479.25 248.50,482.05 256.50,485.05 C264.50,488.04 272.50,492.26 280.50,495.59 C288.50,498.91 296.50,502.48 304.50,505.00 C312.50,507.51 320.50,509.32 328.50,510.69 C336.50,512.07 344.50,512.60 352.50,513.26 C360.50,513.92 372.50,514.45 376.50,514.68" fill="none" stroke="#1fcf9b" stroke-width="3.4" stroke-linejoin="round" stroke-linecap="round"/>
<path d="M64.50,510.69 C68.50,508.80 80.50,504.95 88.50,499.30 C96.50,493.64 104.50,484.00 112.50,476.78 C120.50,469.56 128.50,460.20 136.50,455.98 C144.50,451.75 152.50,448.52 160.50,451.41 C168.50,454.31 176.50,466.52 184.50,473.36 C192.50,480.20 200.50,487.61 208.50,492.45 C216.50,497.30 224.50,499.87 232.50,502.43 C240.50,505.00 248.50,506.52 256.50,507.85 C264.50,509.18 272.50,509.65 280.50,510.41 C288.50,511.17 296.50,511.79 304.50,512.40 C312.50,513.02 320.50,513.64 328.50,514.12 C336.50,514.59 344.50,514.92 352.50,515.25 C360.50,515.59 372.50,515.97 376.50,516.11" transform="translate(0.9,1.5)" fill="none" stroke="#222" stroke-width="1.2"/>
<path d="M64.50,510.69 C68.50,508.80 80.50,504.95 88.50,499.30 C96.50,493.64 104.50,484.00 112.50,476.78 C120.50,469.56 128.50,460.20 136.50,455.98 C144.50,451.75 152.50,448.52 160.50,451.41 C168.50,454.31 176.50,466.52 184.50,473.36 C192.50,480.20 200.50,487.61 208.50,492.45 C216.50,497.30 224.50,499.87 232.50,502.43 C240.50,505.00 248.50,506.52 256.50,507.85 C264.50,509.18 272.50,509.65 280.50,510.41 C288.50,511.17 296.50,511.79 304.50,512.40 C312.50,513.02 320.50,513.64 328.50,514.12 C336.50,514.59 344.50,514.92 352.50,515.25 C360.50,515.59 372.50,515.97 376.50,516.11" fill="none" stroke="#f2c81e" stroke-width="3.6" stroke-linejoin="round" stroke-linecap="round"/>
<line x1="453.9" y1="412.0" x2="453.9" y2="519" stroke="#999" stroke-width="1"/>
<line x1="454.3" y1="519" x2="786.9" y2="519" stroke="#999" stroke-width="1"/>
<line x1="453.9" y1="519.0" x2="460.9" y2="519.0" stroke="#999" stroke-width="1"/>
<text x="443.5" y="525.6" text-anchor="end" font-family='"Liberation Serif", "Times New Roman", serif' font-size="20" fill="#111">0%</text>
<line x1="453.9" y1="497.6" x2="460.9" y2="497.6" stroke="#999" stroke-width="1"/>
<text x="443.5" y="504.2" text-anchor="end" font-family='"Liberation Serif", "Times New Roman", serif' font-size="20" fill="#111">5%</text>
<line x1="453.9" y1="476.2" x2="460.9" y2="476.2" stroke="#999" stroke-width="1"/>
<text x="443.5" y="482.8" text-anchor="end" font-family='"Liberation Serif", "Times New Roman", serif' font-size="20" fill="#111">10%</text>
<line x1="453.9" y1="454.8" x2="460.9" y2="454.8" stroke="#999" stroke-width="1"/>
<text x="443.5" y="461.4" text-anchor="end" font-family='"Liberation Serif", "Times New Roman", serif' font-size="20" fill="#111">15%</text>
<line x1="453.9" y1="433.4" x2="460.9" y2="433.4" stroke="#999" stroke-width="1"/>
<text x="443.5" y="440.0" text-anchor="end" font-family='"Liberation Serif", "Times New Roman", serif' font-size="20" fill="#111">20%</text>
<line x1="453.9" y1="412.0" x2="460.9" y2="412.0" stroke="#999" stroke-width="1"/>
<text x="443.5" y="418.6" text-anchor="end" font-family='"Liberation Serif", "Times New Roman", serif' font-size="20" fill="#111">25%</text>
<line x1="506.1" y1="519" x2="506.1" y2="514" stroke="#999" stroke-width="1"/>
<text transform="translate(479.0,531.8) rotate(-90)" text-anchor="end" font-family='"Liberation Serif", "Times New Roman", serif' font-size="19.5" fill="#333">32.5</text>
<text transform="translate(502.4,531.8) rotate(-90)" text-anchor="end" font-family='"Liberation Serif", "Times New Roman", serif' font-size="19.5" fill="#333">37.5</text>
<text transform="translate(525.8,531.8) rotate(-90)" text-anchor="end" font-family='"Liberation Serif", "Times New Roman", serif' font-size="19.5" fill="#333">42.5</text>
<text transform="translate(549.2,531.8) rotate(-90)" text-anchor="end" font-family='"Liberation Serif", "Times New Roman", serif' font-size="19.5" fill="#333">47.5</text>
<text transform="translate(572.6,531.8) rotate(-90)" text-anchor="end" font-family='"Liberation Serif", "Times New Roman", serif' font-size="19.5" fill="#333">52.5</text>
<text transform="translate(596.0,531.8) rotate(-90)" text-anchor="end" font-family='"Liberation Serif", "Times New Roman", serif' font-size="19.5" fill="#333">57.5</text>
<text transform="translate(619.4,531.8) rotate(-90)" text-anchor="end" font-family='"Liberation Serif", "Times New Roman", serif' font-size="19.5" fill="#333">62.5</text>
<text transform="translate(642.8,531.8) rotate(-90)" text-anchor="end" font-family='"Liberation Serif", "Times New Roman", serif' font-size="19.5" fill="#333">67.5</text>
<text transform="translate(666.2,531.8) rotate(-90)" text-anchor="end" font-family='"Liberation Serif", "Times New Roman", serif' font-size="19.5" fill="#333">72.5</text>
<text transform="translate(689.6,531.8) rotate(-90)" text-anchor="end" font-family='"Liberation Serif", "Times New Roman", serif' font-size="19.5" fill="#333">77.5</text>
<text transform="translate(713.0,531.8) rotate(-90)" text-anchor="end" font-family='"Liberation Serif", "Times New Roman", serif' font-size="19.5" fill="#333">82.5</text>
<text transform="translate(736.4,531.8) rotate(-90)" text-anchor="end" font-family='"Liberation Serif", "Times New Roman", serif' font-size="19.5" fill="#333">87.5</text>
<text transform="translate(759.8,531.8) rotate(-90)" text-anchor="end" font-family='"Liberation Serif", "Times New Roman", serif' font-size="19.5" fill="#333">92.5</text>
<text transform="translate(783.2,531.8) rotate(-90)" text-anchor="end" font-family='"Liberation Serif", "Times New Roman", serif' font-size="19.5" fill="#333">97.5</text>
<path d="M471.00,515.15 C474.90,513.86 486.60,510.87 494.40,507.44 C502.20,504.02 510.00,499.31 517.80,494.60 C525.60,489.90 533.40,484.12 541.20,479.20 C549.00,474.27 556.80,469.07 564.60,465.07 C572.40,461.08 580.20,456.94 588.00,455.23 C595.80,453.52 603.60,454.02 611.40,454.80 C619.20,455.58 627.00,456.80 634.80,459.94 C642.60,463.07 650.40,468.78 658.20,473.63 C666.00,478.48 673.80,484.33 681.60,489.04 C689.40,493.75 697.20,498.38 705.00,501.88 C712.80,505.38 720.60,508.09 728.40,510.01 C736.20,511.94 744.00,512.58 751.80,513.44 C759.60,514.29 771.30,514.86 775.20,515.15" fill="none" stroke="#1fcf9b" stroke-width="4" stroke-linejoin="round" stroke-linecap="round"/>
<path d="M471.00,507.87 C474.90,504.45 486.60,496.17 494.40,487.33 C502.20,478.48 510.00,466.07 517.80,454.80 C525.60,443.53 533.40,423.77 541.20,419.70 C549.00,415.64 556.80,426.69 564.60,430.40 C572.40,434.11 580.20,433.11 588.00,441.96 C595.80,450.81 603.60,472.49 611.40,483.48 C619.20,494.46 627.00,503.66 634.80,507.87 C642.60,512.08 650.40,508.01 658.20,508.73 C666.00,509.44 673.80,511.15 681.60,512.15 C689.40,513.15 697.20,514.22 705.00,514.72 C712.80,515.22 720.60,515.01 728.40,515.15 C736.20,515.29 744.00,515.36 751.80,515.58 C759.60,515.79 771.30,516.29 775.20,516.43" fill="none" stroke="#f2c81e" stroke-width="4" stroke-linejoin="round" stroke-linecap="round"/>
<line x1="453.8" y1="404.20000000000005" x2="453.8" y2="524.2" stroke="#999" stroke-width="1"/>
<line x1="448.8" y1="519.2" x2="789.8" y2="519.2" stroke="#999" stroke-width="1"/>
<line x1="448.8" y1="519.2" x2="453.8" y2="519.2" stroke="#999" stroke-width="1"/>
<text x="410.5" y="526.0" text-anchor="start" font-family='"Liberation Serif", "Times New Roman", serif' font-size="20.5" fill="#111">0%</text>
<line x1="448.8" y1="496.20000000000005" x2="453.8" y2="496.20000000000005" stroke="#999" stroke-width="1"/>
<text x="410.5" y="503.0" text-anchor="start" font-family='"Liberation Serif", "Times New Roman", serif' font-size="20.5" fill="#111">5%</text>
<line x1="448.8" y1="473.20000000000005" x2="453.8" y2="473.20000000000005" stroke="#999" stroke-width="1"/>
<text x="410.5" y="480.0" text-anchor="start" font-family='"Liberation Serif", "Times New Roman", serif' font-size="20.5" fill="#111">10%</text>
<line x1="448.8" y1="450.20000000000005" x2="453.8" y2="450.20000000000005" stroke="#999" stroke-width="1"/>
<text x="410.5" y="457.0" text-anchor="start" font-family='"Liberation Serif", "Times New Roman", serif' font-size="20.5" fill="#111">15%</text>
<line x1="448.8" y1="427.20000000000005" x2="453.8" y2="427.20000000000005" stroke="#999" stroke-width="1"/>
<text x="410.5" y="434.0" text-anchor="start" font-family='"Liberation Serif", "Times New Roman", serif' font-size="20.5" fill="#111">20%</text>
<line x1="448.8" y1="404.20000000000005" x2="453.8" y2="404.20000000000005" stroke="#999" stroke-width="1"/>
<text x="410.5" y="411.0" text-anchor="start" font-family='"Liberation Serif", "Times New Roman", serif' font-size="20.5" fill="#111">25%</text>
<line x1="453.8" y1="519.2" x2="453.8" y2="524.2" stroke="#999" stroke-width="1"/>
<line x1="477.8" y1="519.2" x2="477.8" y2="524.2" stroke="#999" stroke-width="1"/>
<line x1="501.8" y1="519.2" x2="501.8" y2="524.2" stroke="#999" stroke-width="1"/>
<line x1="525.8" y1="519.2" x2="525.8" y2="524.2" stroke="#999" stroke-width="1"/>
<line x1="549.8" y1="519.2" x2="549.8" y2="524.2" stroke="#999" stroke-width="1"/>
<line x1="573.8" y1="519.2" x2="573.8" y2="524.2" stroke="#999" stroke-width="1"/>
<line x1="597.8" y1="519.2" x2="597.8" y2="524.2" stroke="#999" stroke-width="1"/>
<line x1="621.8" y1="519.2" x2="621.8" y2="524.2" stroke="#999" stroke-width="1"/>
<line x1="645.8" y1="519.2" x2="645.8" y2="524.2" stroke="#999" stroke-width="1"/>
<line x1="669.8" y1="519.2" x2="669.8" y2="524.2" stroke="#999" stroke-width="1"/>
<line x1="693.8" y1="519.2" x2="693.8" y2="524.2" stroke="#999" stroke-width="1"/>
<line x1="717.8" y1="519.2" x2="717.8" y2="524.2" stroke="#999" stroke-width="1"/>
<line x1="741.8" y1="519.2" x2="741.8" y2="524.2" stroke="#999" stroke-width="1"/>
<line x1="765.8" y1="519.2" x2="765.8" y2="524.2" stroke="#999" stroke-width="1"/>
<line x1="789.8" y1="519.2" x2="789.8" y2="524.2" stroke="#999" stroke-width="1"/>
<text transform="translate(470.7,540.4) rotate(-45)" text-anchor="end" font-family='"Liberation Serif", "Times New Roman", serif' font-size="19.5" fill="#333">32.5</text>
<text transform="translate(494.7,540.4) rotate(-45)" text-anchor="end" font-family='"Liberation Serif", "Times New Roman", serif' font-size="19.5" fill="#333">37.5</text>
<text transform="translate(518.7,540.4) rotate(-45)" text-anchor="end" font-family='"Liberation Serif", "Times New Roman", serif' font-size="19.5" fill="#333">42.5</text>
<text transform="translate(542.7,540.4) rotate(-45)" text-anchor="end" font-family='"Liberation Serif", "Times New Roman", serif' font-size="19.5" fill="#333">47.5</text>
<text transform="translate(566.7,540.4) rotate(-45)" text-anchor="end" font-family='"Liberation Serif", "Times New Roman", serif' font-size="19.5" fill="#333">52.5</text>
<text transform="translate(590.7,540.4) rotate(-45)" text-anchor="end" font-family='"Liberation Serif", "Times New Roman", serif' font-size="19.5" fill="#333">57.5</text>
<text transform="translate(614.7,540.4) rotate(-45)" text-anchor="end" font-family='"Liberation Serif", "Times New Roman", serif' font-size="19.5" fill="#333">62.5</text>
<text transform="translate(638.7,540.4) rotate(-45)" text-anchor="end" font-family='"Liberation Serif", "Times New Roman", serif' font-size="19.5" fill="#333">67.5</text>
<text transform="translate(662.7,540.4) rotate(-45)" text-anchor="end" font-family='"Liberation Serif", "Times New Roman", serif' font-size="19.5" fill="#333">72.5</text>
<text transform="translate(686.7,540.4) rotate(-45)" text-anchor="end" font-family='"Liberation Serif", "Times New Roman", serif' font-size="19.5" fill="#333">77.5</text>
<text transform="translate(710.7,540.4) rotate(-45)" text-anchor="end" font-family='"Liberation Serif", "Times New Roman", serif' font-size="19.5" fill="#333">82.5</text>
<text transform="translate(734.7,540.4) rotate(-45)" text-anchor="end" font-family='"Liberation Serif", "Times New Roman", serif' font-size="19.5" fill="#333">87.5</text>
<text transform="translate(758.7,540.4) rotate(-45)" text-anchor="end" font-family='"Liberation Serif", "Times New Roman", serif' font-size="19.5" fill="#333">92.5</text>
<text transform="translate(782.7,540.4) rotate(-45)" text-anchor="end" font-family='"Liberation Serif", "Times New Roman", serif' font-size="19.5" fill="#333">97.5</text>
<path d="M465.80,515.06 C469.80,513.68 481.80,510.46 489.80,506.78 C497.80,503.10 505.80,498.04 513.80,492.98 C521.80,487.92 529.80,481.71 537.80,476.42 C545.80,471.13 553.80,465.53 561.80,461.24 C569.80,456.95 577.80,452.50 585.80,450.66 C593.80,448.82 601.80,449.36 609.80,450.20 C617.80,451.04 625.80,452.35 633.80,455.72 C641.80,459.09 649.80,465.23 657.80,470.44 C665.80,475.65 673.80,481.94 681.80,487.00 C689.80,492.06 697.80,497.04 705.80,500.80 C713.80,504.56 721.80,507.47 729.80,509.54 C737.80,511.61 745.80,512.30 753.80,513.22 C761.80,514.14 773.80,514.75 777.80,515.06" fill="none" stroke="#1fcf9b" stroke-width="4" stroke-linejoin="round" stroke-linecap="round"/>
<path d="M465.80,507.24 C469.80,503.56 481.80,494.67 489.80,485.16 C497.80,475.65 505.80,462.31 513.80,450.20 C521.80,438.09 529.80,416.85 537.80,412.48 C545.80,408.11 553.80,419.99 561.80,423.98 C569.80,427.97 577.80,426.89 585.80,436.40 C593.80,445.91 601.80,469.21 609.80,481.02 C617.80,492.83 625.80,502.72 633.80,507.24 C641.80,511.76 649.80,507.39 657.80,508.16 C665.80,508.93 673.80,510.77 681.80,511.84 C689.80,512.91 697.80,514.06 705.80,514.60 C713.80,515.14 721.80,514.91 729.80,515.06 C737.80,515.21 745.80,515.29 753.80,515.52 C761.80,515.75 773.80,516.29 777.80,516.44" fill="none" stroke="#f2c81e" stroke-width="4" stroke-linejoin="round" stroke-linecap="round"/>
<text x="176" y="347.5" font-family='"DejaVu Sans", "Liberation Sans", sans-serif' font-size="15.5" font-weight="bold" fill="#111">Баллы ЕГЭ</text>
<text x="172" y="350.5" font-family='"DejaVu Sans", "Liberation Sans", sans-serif' font-size="15.5" font-weight="bold" fill="#111">Баллы ЕГЭ</text>
<text x="576" y="347.5" font-family='"DejaVu Sans", "Liberation Sans", sans-serif' font-size="15.5" font-weight="bold" fill="#111">Баллы ЕГЭ</text>
<text x="572" y="350.5" font-family='"DejaVu Sans", "Liberation Sans", sans-serif' font-size="15.5" font-weight="bold" fill="#111">Баллы ЕГЭ</text>
<text x="176" y="583" font-family='"DejaVu Sans", "Liberation Sans", sans-serif' font-size="15.5" font-weight="bold" fill="#111">Баллы ЕГЭ</text>
<text x="173" y="585.5" font-family='"DejaVu Sans", "Liberation Sans", sans-serif' font-size="15.5" font-weight="bold" fill="#111">Баллы ЕГЭ</text>
<text x="576" y="585" font-family='"DejaVu Sans", "Liberation Sans", sans-serif' font-size="15.5" font-weight="bold" fill="#111">Баллы ЕГЭ</text>
<text x="573.5" y="587" font-family='"DejaVu Sans", "Liberation Sans", sans-serif' font-size="15.5" font-weight="bold" fill="#111">Баллы ЕГЭ</text>
<line x1="66.7" y1="144.7" x2="90" y2="144.7" stroke="#1fcf9b" stroke-width="3"/>
<line x1="71" y1="166.5" x2="82" y2="166.5" stroke="#f2c81e" stroke-width="3"/>
<line x1="67" y1="172.5" x2="90" y2="172.5" stroke="#f2c81e" stroke-width="3"/>
<text x="85.1" y="151.8" font-family='"DejaVu Sans", "Liberation Sans", sans-serif' font-size="15.3" fill="#111">Все направления</text>
<text x="90.5" y="149.2" font-family='"DejaVu Sans", "Liberation Sans", sans-serif' font-size="15.3" fill="#222">Все направления</text>
<text x="84.5" y="173" font-family='"DejaVu Sans", "Liberation Sans", sans-serif' font-size="15.3" fill="#111">Сельское и рыбное хозяйство</text>
<text x="92" y="177.7" font-family='"DejaVu Sans", "Liberation Sans", sans-serif' font-size="15.3" fill="#222">Сельское и рыбное хозяйство</text>
<line x1="471.2" y1="144.7" x2="494.5" y2="144.7" stroke="#1fcf9b" stroke-width="3"/>
<line x1="475.5" y1="166.5" x2="486.5" y2="166.5" stroke="#f2c81e" stroke-width="3"/>
<line x1="471.5" y1="172.5" x2="494.5" y2="172.5" stroke="#f2c81e" stroke-width="3"/>
<text x="489.6" y="151.8" font-family='"DejaVu Sans", "Liberation Sans", sans-serif' font-size="15.3" fill="#111">Все направления</text>
<text x="495.0" y="149.2" font-family='"DejaVu Sans", "Liberation Sans", sans-serif' font-size="15.3" fill="#222">Все направления</text>
<text x="489.0" y="173" font-family='"DejaVu Sans", "Liberation Sans", sans-serif' font-size="15.3" fill="#111">Геодезия и землеустройство</text>
<text x="496.5" y="177.7" font-family='"DejaVu Sans", "Liberation Sans", sans-serif' font-size="15.3" fill="#222">Геодезия и землеустройство</text>
<line x1="56" y1="380.5" x2="75" y2="380.5" stroke="#1fcf9b" stroke-width="3"/>
<line x1="56" y1="380" x2="75" y2="380" stroke="#f2c81e" stroke-width="2.5"/>
<line x1="60" y1="413" x2="71.6" y2="413" stroke="#f2c81e" stroke-width="3"/>
<text x="74" y="387.2" font-family='"DejaVu Sans", "Liberation Sans", sans-serif' font-size="15" fill="#111">Все направления</text>
<text x="75" y="386.8" font-family='"DejaVu Sans", "Liberation Sans", sans-serif' font-size="15" fill="#222">Металлургия, машиностроение&#160; и</text>
<text x="74" y="409" font-family='"DejaVu Sans", "Liberation Sans", sans-serif' font-size="15" fill="#222">Материалообработка</text>
<text x="74" y="409" font-family='"DejaVu Sans", "Liberation Sans", sans-serif' font-size="15" fill="#222">Металлургия, машиностроение и</text>
<text x="74" y="431" font-family='"DejaVu Sans", "Liberation Sans", sans-serif' font-size="15" fill="#222">материалообработка</text>
<line x1="448" y1="383" x2="459" y2="383" stroke="#1fcf9b" stroke-width="4.5"/>
<text x="461.3" y="389" font-family='"DejaVu Sans", "Liberation Sans", sans-serif' font-size="15" fill="#111">Все направления</text>
<line x1="519.8" y1="382.7" x2="544" y2="382.7" stroke="#f2c81e" stroke-width="3"/>
<text x="545" y="386.4" font-family='"DejaVu Sans", "Liberation Sans", sans-serif' font-size="14.6" fill="#444">Морская техника</text>
<line x1="612.6" y1="382.8" x2="624.4" y2="382.8" stroke="#f2c81e" stroke-width="3"/>
<text x="625.6" y="390" font-family='"DejaVu Sans", "Liberation Sans", sans-serif' font-size="15.3" fill="#111">Морская техника</text>
</svg>
</body></html>
